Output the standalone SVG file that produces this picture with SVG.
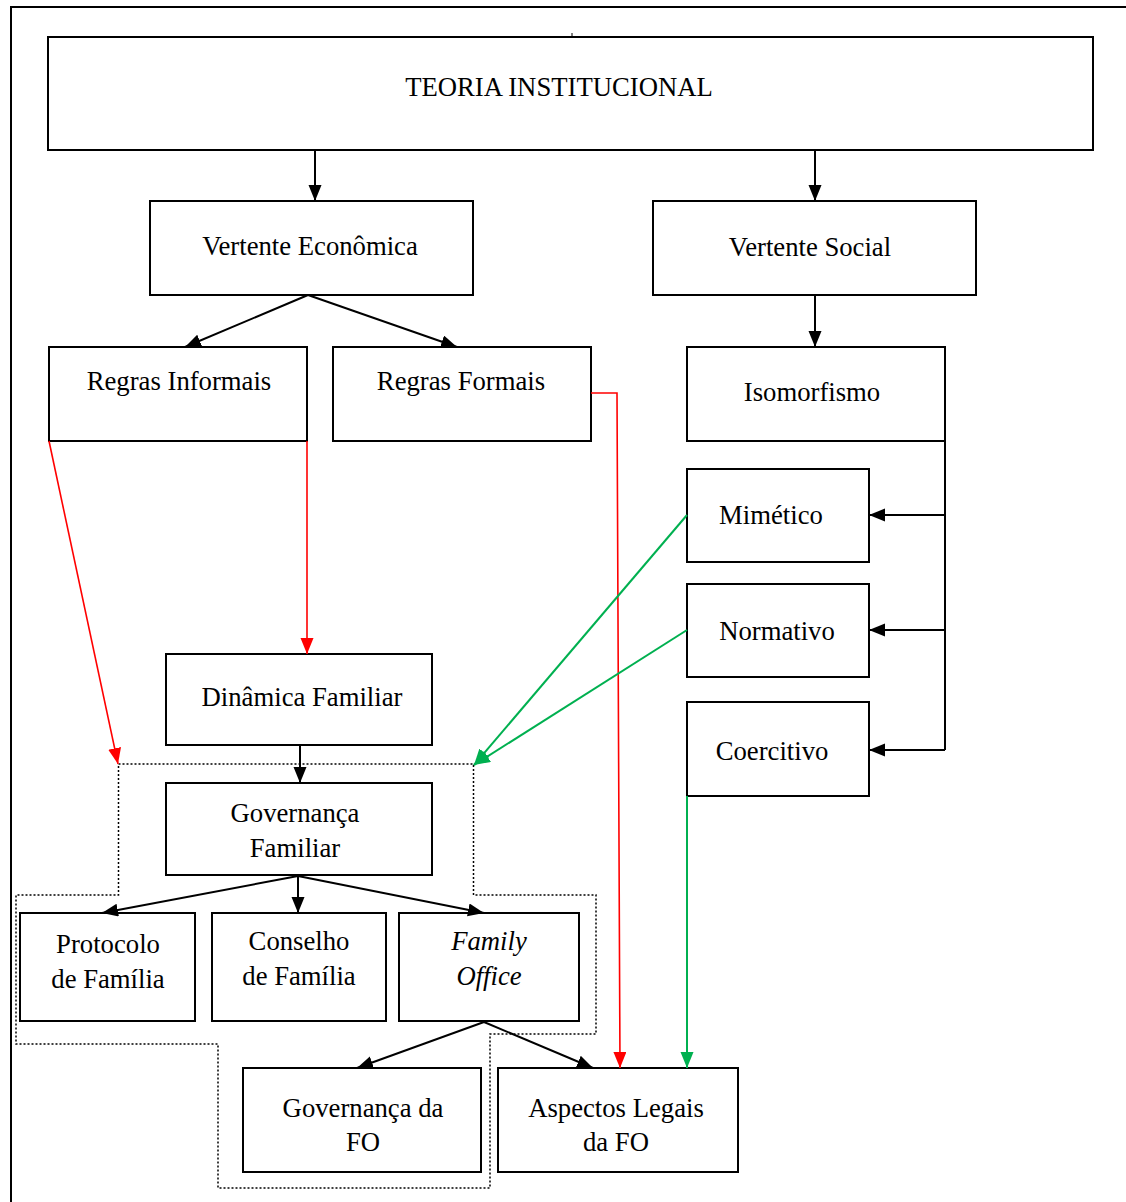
<svg xmlns="http://www.w3.org/2000/svg" width="1126" height="1202" viewBox="0 0 1126 1202">
  <style>
    .box { fill: #fff; stroke: #000; stroke-width: 2; }
    .lbl { font-family: "Liberation Serif", "Times New Roman", serif; font-size: 26.7px; fill: #000; text-anchor: middle; }
    .it { font-style: italic; }
    .blk { fill: none; stroke: #000; stroke-width: 2; }
    .red { fill: none; stroke: #ff0000; stroke-width: 1.6; }
    .grn { fill: none; stroke: #00b050; stroke-width: 2; }
    .dot { fill: none; stroke: #000; stroke-width: 1.5; stroke-dasharray: 2 2; }
  </style>
  <defs>
    <marker id="ah-k" markerUnits="userSpaceOnUse" markerWidth="17" markerHeight="14" refX="16" refY="6.5" orient="auto">
      <path d="M0,0 L16,6.5 L0,13 Z" fill="#000"/>
    </marker>
    <marker id="ah-r" markerUnits="userSpaceOnUse" markerWidth="17" markerHeight="14" refX="16" refY="6.5" orient="auto">
      <path d="M0,0 L16,6.5 L0,13 Z" fill="#ff0000"/>
    </marker>
    <marker id="ah-g" markerUnits="userSpaceOnUse" markerWidth="17" markerHeight="14" refX="16" refY="6.5" orient="auto">
      <path d="M0,0 L16,6.5 L0,13 Z" fill="#00b050"/>
    </marker>
  </defs>

  <rect width="1126" height="1202" fill="#fff"/>

  <!-- page frame -->
  <path d="M11,1202 V7 H1126" fill="none" stroke="#000" stroke-width="2"/>

  <!-- dotted grouping outline -->
  <path class="dot" d="M118.5,764 H473.5 V895 H596 V1034 H490 V1188 H218 V1044 H16 V895 H118.5 Z"/>

  <!-- nodes -->
  <g id="teoria">
    <rect class="box" x="48" y="37" width="1045" height="113"/>
    <line x1="572" y1="33" x2="572" y2="37" stroke="#000" stroke-width="1"/>
    <text class="lbl" x="559" y="96">TEORIA INSTITUCIONAL</text>
  </g>
  <g id="vertente-economica">
    <rect class="box" x="150" y="201" width="323" height="94"/>
    <text class="lbl" x="310" y="255">Vertente Econômica</text>
  </g>
  <g id="vertente-social">
    <rect class="box" x="653" y="201" width="323" height="94"/>
    <text class="lbl" x="810" y="256">Vertente Social</text>
  </g>
  <g id="regras-informais">
    <rect class="box" x="49" y="347" width="258" height="94"/>
    <text class="lbl" x="179" y="390">Regras Informais</text>
  </g>
  <g id="regras-formais">
    <rect class="box" x="333" y="347" width="258" height="94"/>
    <text class="lbl" x="461" y="390">Regras Formais</text>
  </g>
  <g id="isomorfismo">
    <rect class="box" x="687" y="347" width="258" height="94"/>
    <text class="lbl" x="812" y="401">Isomorfismo</text>
  </g>
  <g id="mimetico">
    <rect class="box" x="687" y="469" width="182" height="93"/>
    <text class="lbl" x="771" y="524">Mimético</text>
  </g>
  <g id="normativo">
    <rect class="box" x="687" y="584" width="182" height="93"/>
    <text class="lbl" x="777" y="640">Normativo</text>
  </g>
  <g id="coercitivo">
    <rect class="box" x="687" y="702" width="182" height="94"/>
    <text class="lbl" x="772" y="760">Coercitivo</text>
  </g>
  <g id="dinamica-familiar">
    <rect class="box" x="166" y="654" width="266" height="91"/>
    <text class="lbl" x="302" y="706">Dinâmica Familiar</text>
  </g>
  <g id="governanca-familiar">
    <rect class="box" x="166" y="783" width="266" height="92"/>
    <text class="lbl" x="295" y="822">Governança</text>
    <text class="lbl" x="295" y="857">Familiar</text>
  </g>
  <g id="protocolo">
    <rect class="box" x="20" y="913" width="175" height="108"/>
    <text class="lbl" x="108" y="953">Protocolo</text>
    <text class="lbl" x="108" y="988">de Família</text>
  </g>
  <g id="conselho">
    <rect class="box" x="212" y="913" width="174" height="108"/>
    <text class="lbl" x="299" y="950">Conselho</text>
    <text class="lbl" x="299" y="985">de Família</text>
  </g>
  <g id="family-office">
    <rect class="box" x="399" y="913" width="180" height="108"/>
    <text class="lbl it" x="489" y="950">Family</text>
    <text class="lbl it" x="489" y="985">Office</text>
  </g>
  <g id="governanca-fo">
    <rect class="box" x="243" y="1068" width="238" height="104"/>
    <text class="lbl" x="363" y="1117">Governança da</text>
    <text class="lbl" x="363" y="1151">FO</text>
  </g>
  <g id="aspectos-legais">
    <rect class="box" x="498" y="1068" width="240" height="104"/>
    <text class="lbl" x="616" y="1117">Aspectos Legais</text>
    <text class="lbl" x="616" y="1151">da FO</text>
  </g>

  <!-- connectors -->
  <g id="connectors">
    <line class="blk" x1="315" y1="150" x2="315" y2="201" marker-end="url(#ah-k)"/>
    <line class="blk" x1="815" y1="150" x2="815" y2="201" marker-end="url(#ah-k)"/>
    <line class="blk" x1="308" y1="295" x2="185" y2="347" marker-end="url(#ah-k)"/>
    <line class="blk" x1="308" y1="295" x2="457" y2="347" marker-end="url(#ah-k)"/>
    <line class="blk" x1="815" y1="295" x2="815" y2="347" marker-end="url(#ah-k)"/>
    <path class="blk" d="M945,441 V750"/>
    <line class="blk" x1="945" y1="515" x2="869" y2="515" marker-end="url(#ah-k)"/>
    <line class="blk" x1="945" y1="630" x2="869" y2="630" marker-end="url(#ah-k)"/>
    <line class="blk" x1="945" y1="750" x2="869" y2="750" marker-end="url(#ah-k)"/>
    <line class="blk" x1="300" y1="745" x2="300" y2="783" marker-end="url(#ah-k)"/>
    <line class="blk" x1="298" y1="876" x2="102" y2="913" marker-end="url(#ah-k)"/>
    <line class="blk" x1="298" y1="876" x2="298" y2="913" marker-end="url(#ah-k)"/>
    <line class="blk" x1="298" y1="876" x2="484" y2="913" marker-end="url(#ah-k)"/>
    <line class="blk" x1="484" y1="1022" x2="357" y2="1068" marker-end="url(#ah-k)"/>
    <line class="blk" x1="484" y1="1022" x2="593" y2="1068" marker-end="url(#ah-k)"/>

    <line class="red" x1="49" y1="441" x2="118" y2="764" marker-end="url(#ah-r)"/>
    <line class="red" x1="307" y1="441" x2="307" y2="654" marker-end="url(#ah-r)"/>
    <path class="red" d="M591,393 H617 L620,1068" marker-end="url(#ah-r)"/>

    <line class="grn" x1="687" y1="515" x2="474" y2="765" marker-end="url(#ah-g)"/>
    <line class="grn" x1="687" y1="630" x2="474" y2="765" marker-end="url(#ah-g)"/>
    <line class="grn" x1="687" y1="796" x2="687" y2="1068" marker-end="url(#ah-g)"/>
  </g>
</svg>
